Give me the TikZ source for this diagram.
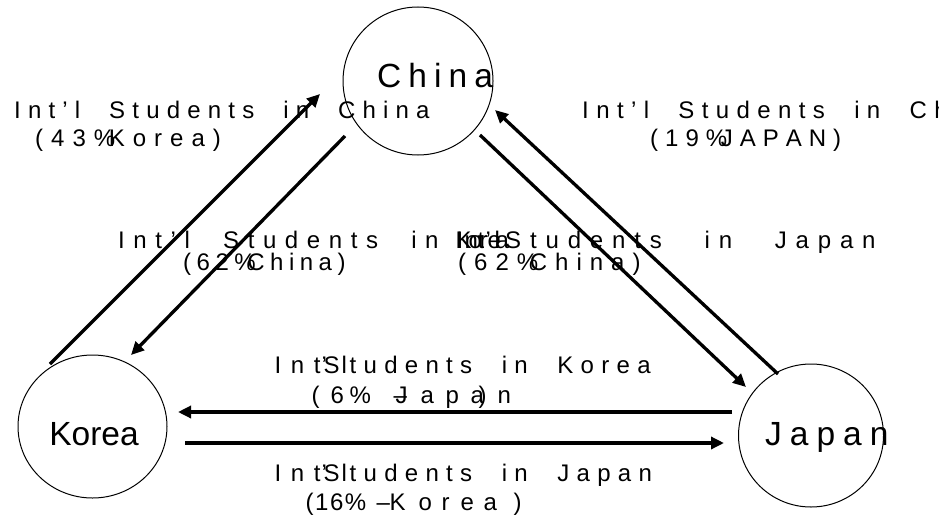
\documentclass[tikz,border=0pt]{standalone}
\usepackage{fontspec}
\setmainfont{Liberation Sans}
\usetikzlibrary{arrows.meta,shapes.geometric}
\newcommand\ch[2]{\makebox[0pt][l]{\hspace*{#1pt}#2}}
\makeatletter
\newlength\tmpw \newlength\wsp
\newcommand\W{\hspace{\wsp}}
\newcommand\trk[3]{\setlength\wsp{#2pt}\@tfor\@cc:=#3\do{\settowidth\tmpw{\@cc}\addtolength\tmpw{#1pt}\makebox[\tmpw][l]{\@cc}}}
\makeatother
\tikzset{
  country/.style={draw=black, line width=1pt, ellipse, inner sep=0pt, outer sep=0pt},
  ctext/.style={font=\fontsize{33.5}{40}\selectfont, inner sep=0pt, anchor=base west},
  lbl/.style={font=\fontsize{24}{28}\selectfont, inner sep=0pt, anchor=base west},
  arr/.style={line width=3.3pt, -{Triangle[length=13pt,width=12pt]}}
}
\begin{document}
\begin{tikzpicture}[x=1pt,y=-1pt]
\useasboundingbox (0,0) rectangle (939,519);
\fill[white] (0,0) rectangle (939,519);
\clip (0,0) rectangle (939,519);
% countries
\node[country, minimum width=150pt, minimum height=148pt] (china) at (418,81) {};
\node[country, minimum width=149pt, minimum height=143pt] (korea) at (92.5,426.5) {};
\node[country, minimum width=145pt, minimum height=143pt] (japan) at (811,435.5) {};
\node[ctext] (chinaT) at (377,87) {\trk{7.1}{0}{China}};
\node[ctext, anchor=base] (koreaT) at (94,445) {Korea};
\node[ctext] (japanT) at (765,445) {\trk{8}{0}{Japan}};
% connector ends
\coordinate (a1s) at (50,364);  \coordinate (a1e) at (320,94);
\coordinate (a2s) at (345,136); \coordinate (a2e) at (131,355);
\coordinate (a3s) at (480,135); \coordinate (a3e) at (746,387);
\coordinate (a4s) at (778,374); \coordinate (a4e) at (495,110);
\coordinate (a5s) at (732,412); \coordinate (a5e) at (178,412);
\coordinate (a6s) at (185,443); \coordinate (a6e) at (724,443);
\draw[arr] (a1s) -- (a1e);
\draw[arr] (a2s) -- (a2e);
\draw[arr] (a3s) -- (a3e);
\draw[arr] (a4s) -- (a4e);
\draw[arr] (a5s) -- (a5e);
\draw[arr] (a6s) -- (a6e);
% labels top
\node[lbl] (l1) at (14,118) {\trk{7.2}{14.5}{Int’l\W Students\W in\W China}};
\node[lbl] (l1b) at (35,146) {\trk{8}{0}{(43}\rlap{\%}\hspace{15pt}\trk{8}{0}{Korea)}};
\node[lbl] (l2) at (582,118) {\trk{7.4}{14.5}{Int’l\W Students\W in\W China}};
\node[lbl] (l2b) at (650,146) {\trk{7}{0}{(19}\rlap{\%}\hspace{15pt}\trk{7}{0}{JAPAN)}};
% labels middle
\node[lbl] (l5) at (118,248) {\trk{8.6}{16}{Int’l\W Students\W in}};
\node[lbl] (clu) at (455,248) {\ch{0}{K}\ch{1}{I}\ch{9}{n}\ch{13}{o}\ch{22}{t}\ch{24}{r}\ch{30}{’}\ch{32}{e}\ch{39}{l}\ch{40}{a}};
\node[lbl] (l6) at (505,248) {\trk{8.85}{25}{Students\W in\W Japan}};
\node[lbl] (l7) at (183,270) {\trk{5.5}{0}{(62}\rlap{\%}\hspace{13pt}\trk{5.5}{0}{China)}};
\node[lbl] (l8) at (458,270) {\trk{8}{0}{(62}\rlap{\%}\hspace{13pt}\trk{8}{0}{China)}};
% labels bottom
\node[lbl] (l9) at (274,373) {\ch{0}{\trk{9.6}{0}{Int}}\ch{47}{’}\ch{49}{S}\ch{67}{l}\ch{75}{\trk{7.3}{15}{tudents\W in\W Korea}}};
\node[lbl] (l10) at (311,403) {\ch{0}{(}\ch{19}{6}\ch{38}{\%}\ch{82}{–}\ch{84}{J}\ch{109}{a}\ch{134}{p}\ch{159}{a}\ch{167}{)}\ch{186}{n}};
\node[lbl] (l11) at (274,481) {\ch{0}{\trk{9.6}{0}{Int}}\ch{47}{’}\ch{49}{S}\ch{67}{l}\ch{75}{\trk{7.3}{15}{tudents\W in\W Japan}}};
\node[lbl] (l12) at (305,510) {\ch{0}{\trk{1.5}{0}{(16\%}}\ch{71}{–}\ch{84}{K}\ch{113}{o}\ch{136}{r}\ch{155}{e}\ch{178}{a}\ch{208}{)}};
\end{tikzpicture}
\end{document}
